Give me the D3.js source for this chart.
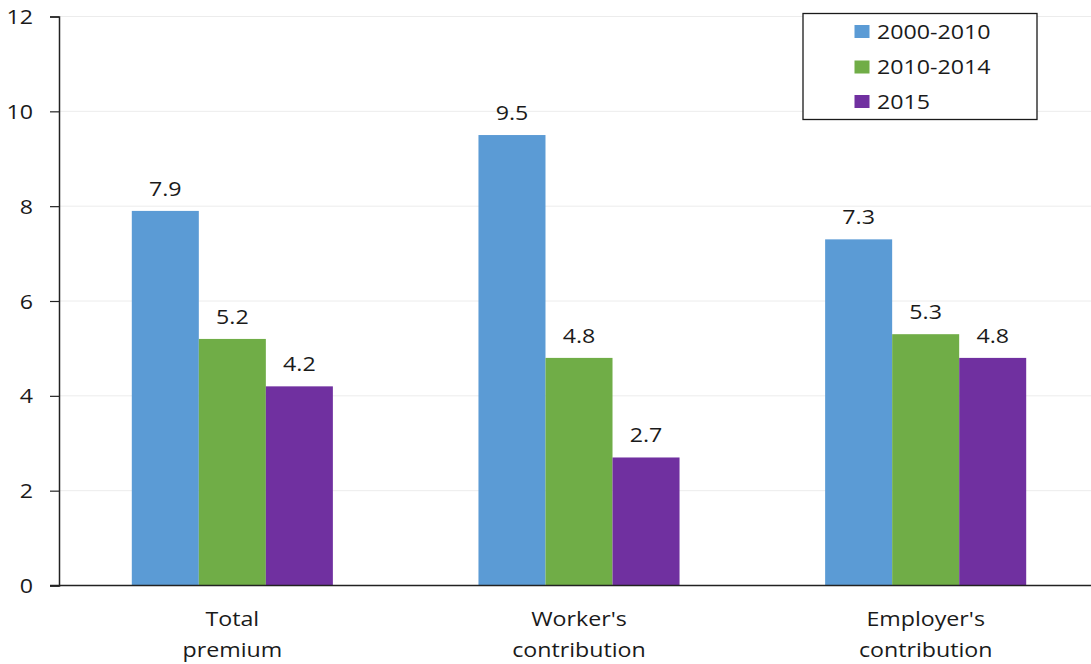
<!DOCTYPE html>
<html>
<head>
<meta charset="utf-8">
<script src="https://cdn.jsdelivr.net/npm/d3@7"></script>
<style>
  html, body { margin: 0; padding: 0; background: #fff; }
  svg { display: block; }
  text { font-family: "Open Sans", "Noto Sans", sans-serif; font-size: 20px; fill: #1a1a1a; }
</style>
</head>
<body>
<svg id="chart" width="1091" height="664"></svg>
<script>
// Annual growth by cost component
const categories = [["Total", "premium"], ["Worker's", "contribution"], ["Employer's", "contribution"]];
const seriesNames = ["2000-2010", "2010-2014", "2015"];
const seriesColors = ["#5B9BD5", "#70AD47", "#7030A0"];
const values2000_2010 = [7.9, 9.5, 7.3];
const values2010_2014 = [5.2, 4.8, 5.3];
const values2015 = [4.2, 2.7, 4.8];
const yTicks = [0, 2, 4, 6, 8, 10, 12];

const seriesValues = [values2000_2010, values2010_2014, values2015];
const catKeys = categories.map(c => c.join(" "));

const svg = d3.select("#chart");
const W = 1091;
const margin = { left: 59, top: 16.5, bottom: 585.5 };
const sx = 1.16; // horizontal glyph widening

const y = d3.scaleLinear().domain([0, 12]).range([margin.bottom, margin.top]);
const x0 = d3.scaleBand().domain(catKeys).range([59, 1099]).padding(0);
const bw = x0.bandwidth();
const x1 = d3.scaleBand().domain(seriesNames).range([bw * 0.21, bw * 0.79]).padding(0);

// gridlines
svg.append("g")
  .selectAll("line")
  .data(yTicks.filter(t => t > 0))
  .join("line")
  .attr("x1", margin.left).attr("x2", W)
  .attr("y1", d => y(d)).attr("y2", d => y(d))
  .attr("stroke", "#ececec").attr("stroke-width", 1);

// bars
const groups = svg.append("g")
  .selectAll("g")
  .data(catKeys)
  .join("g")
  .attr("transform", d => `translate(${x0(d)},0)`);

groups.each(function(cat, ci) {
  const g = d3.select(this);
  seriesNames.forEach((s, si) => {
    const v = seriesValues[si][ci];
    g.append("rect")
      .attr("x", x1(s))
      .attr("y", y(v))
      .attr("width", x1.bandwidth())
      .attr("height", y(0) - y(v))
      .attr("fill", seriesColors[si]);
    g.append("text")
      .attr("transform", `translate(${x1(s) + x1.bandwidth() / 2},${y(v) - 15}) scale(${sx},1)`)
      .attr("text-anchor", "middle")
      .text(d3.format(".1f")(v));
  });
});

// y axis
const yAxis = d3.axisLeft(y).tickValues(yTicks).tickSize(9).tickFormat(d3.format("d"));
const ya = svg.append("g").attr("transform", `translate(${margin.left},0)`).call(yAxis);
ya.select(".domain").attr("stroke", "#222").attr("stroke-width", 1.5);
ya.selectAll(".tick line").attr("stroke", "#222").attr("stroke-width", 1.2);
ya.selectAll(".tick text").remove();
ya.selectAll(".tick").append("text")
  .attr("transform", `translate(-26,7) scale(${sx},1)`)
  .attr("text-anchor", "end")
  .text(d => d);

// x baseline
svg.append("line")
  .attr("x1", 50).attr("x2", W)
  .attr("y1", y(0)).attr("y2", y(0))
  .attr("stroke", "#222").attr("stroke-width", 1.5);

// category labels
categories.forEach((lines, i) => {
  const cx = x0(catKeys[i]) + bw / 2;
  lines.forEach((ln, li) => {
    svg.append("text")
      .attr("transform", `translate(${cx},${626 + li * 31}) scale(${sx},1)`)
      .attr("text-anchor", "middle")
      .text(ln);
  });
});

// legend
const lg = svg.append("g");
lg.append("rect")
  .attr("x", 803).attr("y", 13.5)
  .attr("width", 234).attr("height", 106)
  .attr("fill", "#fff").attr("stroke", "#1a1a1a").attr("stroke-width", 1.3);
const legendRows = [31.5, 67, 101.5];
seriesNames.forEach((s, i) => {
  lg.append("rect")
    .attr("x", 854.5).attr("y", legendRows[i] - 6.5)
    .attr("width", 15).attr("height", 13)
    .attr("fill", seriesColors[i]);
  lg.append("text")
    .attr("transform", `translate(877,${legendRows[i] + 7}) scale(${sx},1)`)
    .text(s);
});
</script>
</body>
</html>
